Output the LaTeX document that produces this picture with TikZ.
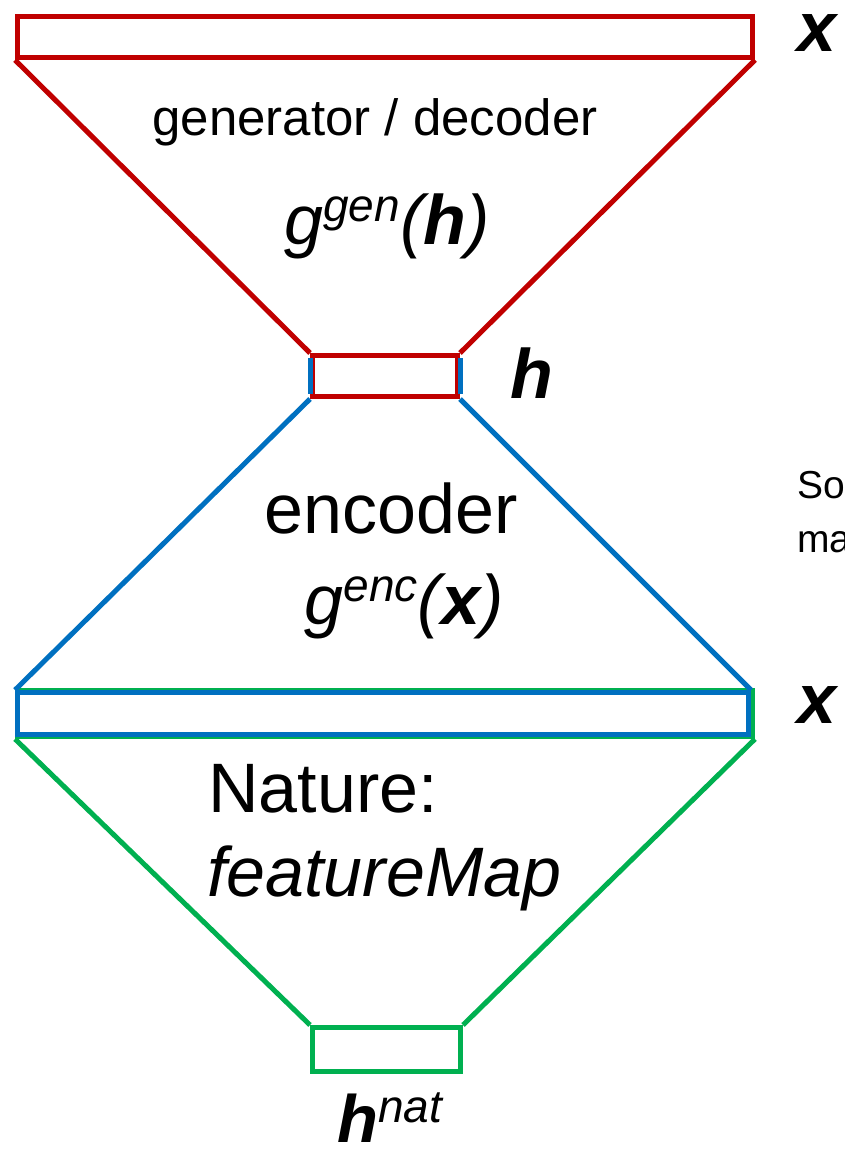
\documentclass[tikz,border=0pt]{standalone}
\usepackage{fontspec}
\setmainfont{Liberation Sans}
\definecolor{decred}{HTML}{C00000}
\definecolor{encblue}{HTML}{0070C0}
\definecolor{natgreen}{HTML}{00B050}
% raised index in the function names
\newcommand{\upidx}[1]{\raisebox{23pt}{\fontsize{46}{46}\selectfont #1}}
\begin{document}
\begin{tikzpicture}[x=1pt,y=-1pt,
  edge/.style={line width=5pt},
  layer/.style={draw, line width=5pt, rectangle, inner sep=0pt, anchor=north west},
  big/.style={inner sep=0pt, font=\fontsize{70}{84}\selectfont},
  small/.style={inner sep=0pt, font=\fontsize{51}{60}\selectfont},
  side/.style={inner sep=0pt, anchor=base west, font=\fontsize{39}{46}\selectfont}]
\useasboundingbox (0,0) rectangle (845,1156);
\clip (0,0) rectangle (845,1156);

% layer boxes
\node[layer, draw=natgreen, minimum width=148pt, minimum height=44pt] (hnatbox) at (310,1025) {};
\node[layer, draw=natgreen, minimum width=735pt, minimum height=46pt] (xgreen) at (15,688) {};
\draw[natgreen, edge] (xgreen.south west) -- (hnatbox.north west);
\draw[natgreen, edge] (xgreen.south east) -- (hnatbox.north east);

\node[layer, draw=encblue, minimum width=731pt, minimum height=42pt] (xmid) at (15,690) {};
\node[layer, draw=decred, minimum width=145pt, minimum height=41pt] (hcode) at (310,353) {};
\draw[encblue, edge] (hcode.south west) -- (xmid.north west);
\draw[encblue, edge] (hcode.south east) -- (xmid.north east);

\node[layer, draw=decred, minimum width=735pt, minimum height=41pt] (xtop) at (15,14) {};
\draw[decred, edge] (xtop.south west) -- (hcode.north west);
\draw[decred, edge] (xtop.south east) -- (hcode.north east);
\draw[encblue, edge] ([yshift=-5pt]hcode.north west) -- ([yshift=5pt]hcode.south west);
\draw[encblue, edge] ([yshift=-5pt]hcode.north east) -- ([yshift=5pt]hcode.south east);

% labels
\node[small, anchor=base] (gendec) at (375,135) {generator / decoder};
\node[big, anchor=base] (gfun) at (387,244) {\itshape g\upidx{gen}({\bfseries h})};
\node[big, anchor=base] (enc) at (391,533) {encoder};
\node[big, anchor=base] (efun) at (404,624) {\itshape g\upidx{enc}({\bfseries x})};
\node[big, anchor=base west] (nat) at (208,812) {Nature:};
\node[big, anchor=base west] (fmap) at (207,896) {\itshape featureMap};
\node[big, anchor=base west] (hlbl) at (510,398) {\bfseries\itshape h};
\node[big, anchor=base west] (xtoplbl) at (797,52) {\bfseries\itshape x};
\node[big, anchor=base west] (xmidlbl) at (797,723) {\bfseries\itshape x};
\node[big, anchor=base west, font=\fontsize{67}{80}\selectfont] (hnatlbl) at (337,1142) {{\bfseries\itshape h}{\itshape\raisebox{-3pt}{\upidx{nat}}}};
\node[side] (so) at (797,498) {So};
\node[side] (ma) at (797,552) {ma};
\end{tikzpicture}
\end{document}
